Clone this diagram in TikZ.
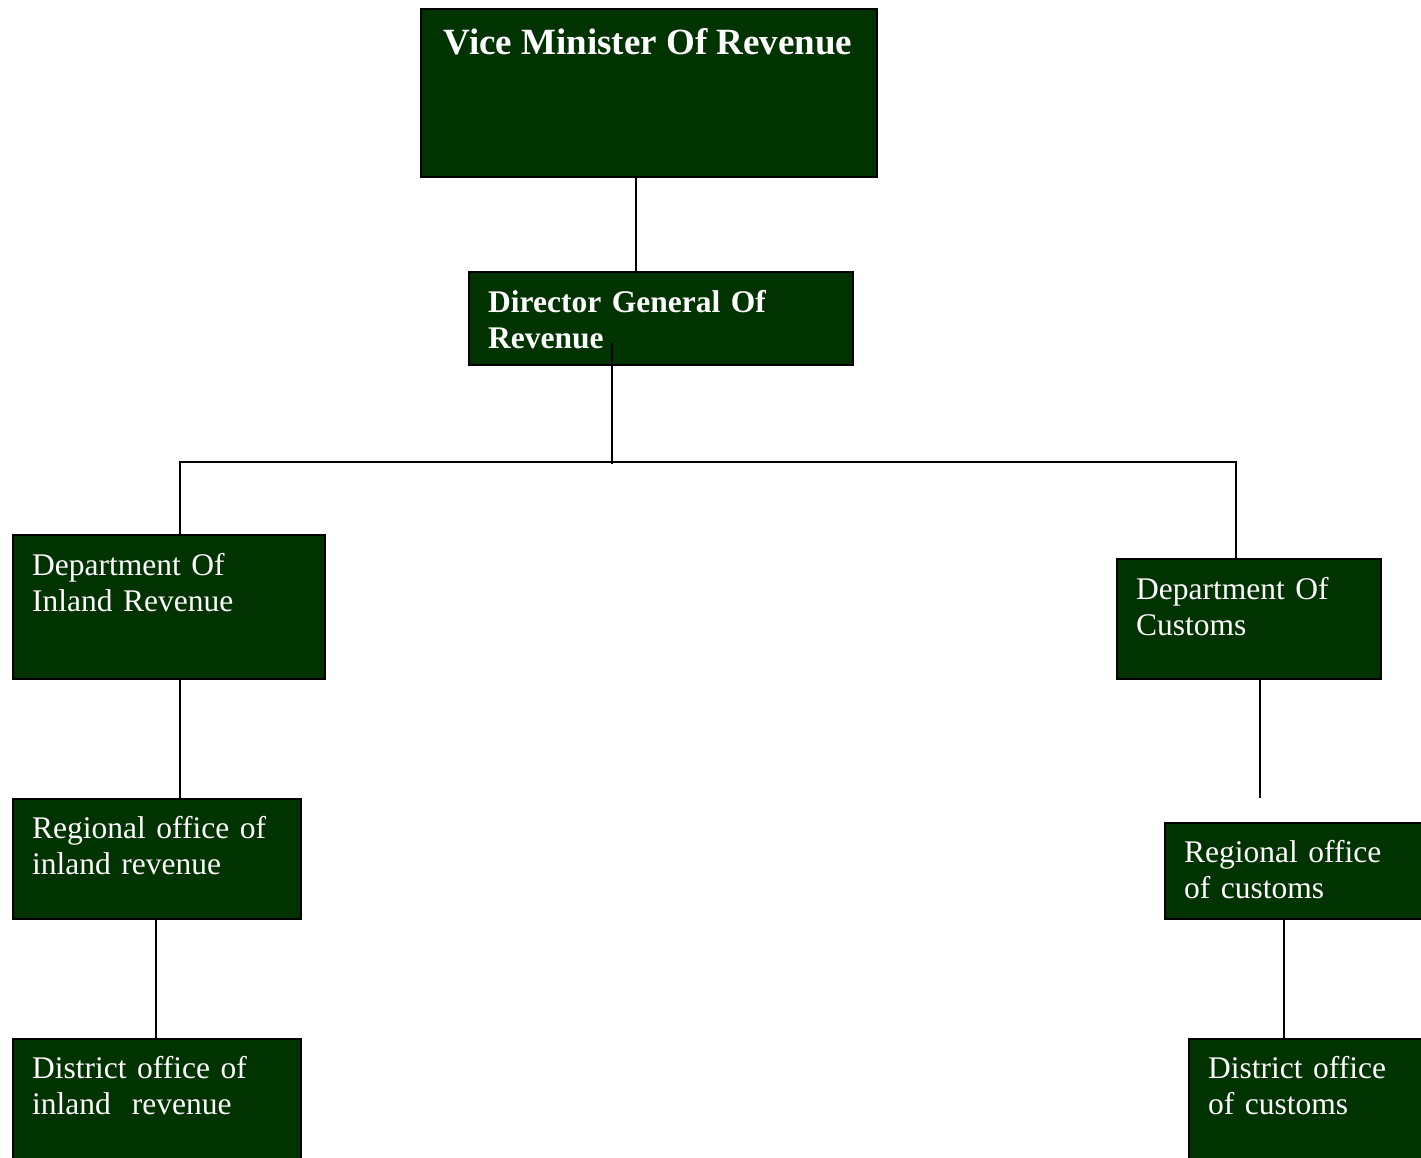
\documentclass[tikz,border=0pt]{standalone}
\usepackage{fontspec}
\setmainfont{Liberation Serif}
\definecolor{boxgreen}{HTML}{003300}
\begin{document}
\begin{tikzpicture}[x=1pt,y=-1pt,
  box/.style={draw=black, line width=2pt, fill=boxgreen, anchor=north west, inner sep=0pt},
  lbl/.style={text=white, anchor=base west, inner sep=0pt, text width=360pt, align=left,
              font=\fontsize{31.5}{36}\selectfont},
  blbl/.style={lbl, font=\fontsize{31.5}{36}\selectfont\bfseries},
  conn/.style={draw=black, line width=2pt}]
\useasboundingbox (0,0) rectangle (1421,1157);
\clip (0,0) rectangle (1421,1157);
% boxes
\node[box, minimum width=456pt, minimum height=168pt] (vice) at (420,8) {};
\node[box, minimum width=384pt, minimum height=93pt] (dg) at (468,271) {};
\node[box, minimum width=312pt, minimum height=144pt] (dil) at (12,534) {};
\node[box, minimum width=264pt, minimum height=120pt] (dc) at (1116,558) {};
\node[box, minimum width=288pt, minimum height=120pt] (rii) at (12,798) {};
\node[box, minimum width=270pt, minimum height=96pt] (rc) at (1164,822) {};
\node[box, minimum width=288pt, minimum height=130pt] (dii) at (12,1038) {};
\node[box, minimum width=246pt, minimum height=130pt] (dcu) at (1188,1038) {};
% texts
\node[text=white, anchor=base, inner sep=0pt, font=\fontsize{37}{40}\selectfont\bfseries] (vicet) at (648,54) {Vice Minister Of Revenue};
\node[blbl] (dgt) at (488,312) {Director General Of\\Revenue};
\node[lbl] (dilt) at (32,575) {Department Of\\Inland Revenue};
\node[lbl] (dct) at (1136,599) {Department Of\\Customs};
\node[lbl] (riit) at (32,838) {Regional office of\\inland revenue};
\node[lbl] (rct) at (1184,862) {Regional office\\of customs};
\node[lbl] (diit) at (32,1078) {District office of\\inland\ \ revenue};
\node[lbl] (dcut) at (1208,1078) {District office\\of customs};
% connector coordinates
\coordinate (dgin) at (612,343);
\coordinate (bus) at (612,462);
\coordinate (junc) at (612,464);
\coordinate (dcend) at (1260,798);
% connectors
\draw[conn] ([xshift=216pt]vice.south west) -- ([xshift=216pt]vice.south west |- dg.north);
\draw[conn] (dgin) -- (junc);
\draw[conn] ([xshift=168pt]dil.north west) -- ([xshift=168pt]dil.north west |- bus)
  -- ([xshift=120pt]dc.north west |- bus) -- ([xshift=120pt]dc.north west);
\draw[conn] ([xshift=168pt]dil.south west) -- ([xshift=168pt]dil.south west |- rii.north);
\draw[conn] ([xshift=144pt]rii.south west) -- ([xshift=144pt]rii.south west |- dii.north);
\draw[conn] ([xshift=144pt]dc.south west) -- (dcend);
\draw[conn] ([xshift=120pt]rc.south west) -- ([xshift=120pt]rc.south west |- dcu.north);
\end{tikzpicture}
\end{document}
